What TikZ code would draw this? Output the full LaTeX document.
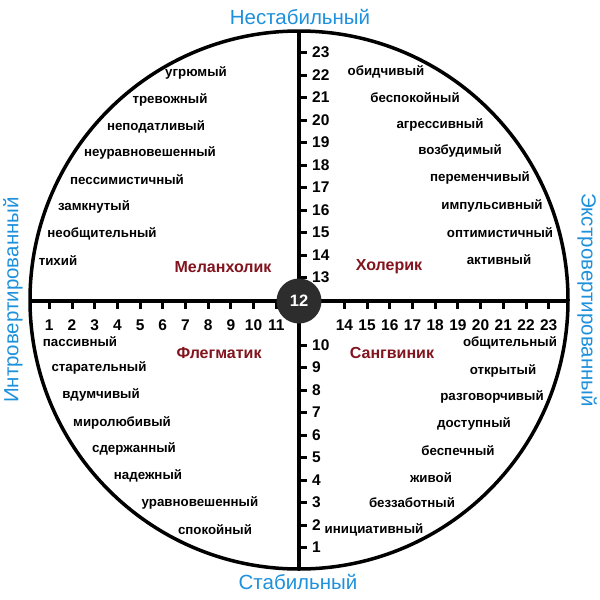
\documentclass[tikz,border=0pt]{standalone}
\usepackage{fontspec}
\setmainfont{Liberation Sans}
\definecolor{temred}{RGB}{130,20,30}
\definecolor{lblue}{RGB}{30,145,220}
\definecolor{hub}{RGB}{45,45,45}
\begin{document}
\begin{tikzpicture}[x=1pt,y=-1pt,
  word/.style={font=\bfseries\fontsize{13.3}{15}\selectfont, text=black, inner sep=0pt},
  temp/.style={font=\bfseries\fontsize{16}{18}\selectfont, text=temred, inner sep=0pt},
  num/.style={font=\bfseries\fontsize{15.5}{17}\selectfont, text=black, inner sep=0pt},
  axislbl/.style={font=\fontsize{20.5}{22}\selectfont, text=lblue, inner sep=0pt},
  heavy/.style={line width=3.5pt, draw=black},
  tick/.style={line width=3pt, draw=black}]
\useasboundingbox (0,0) rectangle (600,600);
\fill[white] (0,0) rectangle (600,600);

% circle and axes
\draw[heavy] (299,300) circle[radius=269];
\coordinate (L) at (30,301);
\coordinate (R) at (568,301);
\coordinate (T) at (299,31);
\coordinate (B) at (299,569);
\draw[heavy] (L) -- (R);
\draw[heavy] (T) -- (B);

% horizontal ticks and numbers
\foreach \n in {1,...,11,14,15,16,17,18,19,20,21,22,23}{
  \coordinate (hx\n) at ({299+(\n-12)*22.7},301);
  \draw[tick] (hx\n) -- ++(0,8);
  \node[num] (hn\n) at ({299+(\n-12)*22.7},325) {\n};
}
% vertical ticks and numbers
\foreach \n in {1,...,10,13,14,15,16,17,18,19,20,21,22,23}{
  \coordinate (vy\n) at (299,{300-(\n-12)*22.5});
  \draw[tick] (vy\n) -- ++(8,0);
  \node[num, anchor=west] (vn\n) at (312,{300-(\n-12)*22.5}) {\n};
}

% hub
\node[circle, fill=hub, minimum size=45pt, inner sep=0pt, text=white,
  font=\bfseries\fontsize{16.5}{18}\selectfont] (hub) at (299,301) {12};

% axis labels
\node[axislbl] (top) at (300,17) {Нестабильный};
\node[axislbl] (bot) at (298,582) {Стабильный};
\node[axislbl, rotate=90] (lft) at (13,300) {Интровертированный};
\node[axislbl, rotate=-90] (rgt) at (587,300) {Экстровертированный};

% temperaments
\node[temp] (mel) at (223,267) {Меланхолик};
\node[temp] (hol) at (389,267) {Холерик};
\node[temp] (fle) at (219,353) {Флегматик};
\node[temp] (san) at (392,353) {Сангвиник};

% upper left
\node[word] (w1) at (196,73) {угрюмый};
\node[word] (w2) at (170,100) {тревожный};
\node[word] (w3) at (156,127) {неподатливый};
\node[word] (w4) at (150,153) {неуравновешенный};
\node[word] (w5) at (127,180) {пессимистичный};
\node[word] (w6) at (94,207) {замкнутый};
\node[word] (w7) at (102,234) {необщительный};
\node[word] (w8) at (58,261) {тихий};

% upper right
\node[word] (e1) at (386,72) {обидчивый};
\node[word] (e2) at (415,98) {беспокойный};
\node[word] (e3) at (440,125) {агрессивный};
\node[word] (e4) at (460,151) {возбудимый};
\node[word] (e5) at (480,178) {переменчивый};
\node[word] (e6) at (492,206) {импульсивный};
\node[word] (e7) at (500,233) {оптимистичный};
\node[word] (e8) at (499,260) {активный};

% lower left
\node[word] (f1) at (80,342) {пассивный};
\node[word] (f2) at (99,368) {старательный};
\node[word] (f3) at (101,395) {вдумчивый};
\node[word] (f4) at (122,423) {миролюбивый};
\node[word] (f5) at (134,449) {сдержанный};
\node[word] (f6) at (148,476) {надежный};
\node[word] (f7) at (200,503) {уравновешенный};
\node[word] (f8) at (215,530) {спокойный};

% lower right
\node[word] (s1) at (510,343) {общительный};
\node[word] (s2) at (503,371) {открытый};
\node[word] (s3) at (492,397) {разговорчивый};
\node[word] (s4) at (474,424) {доступный};
\node[word] (s5) at (458,451) {беспечный};
\node[word] (s6) at (431,478) {живой};
\node[word] (s7) at (412,503) {беззаботный};
\node[word] (s8) at (374,530) {инициативный};
\end{tikzpicture}
\end{document}
